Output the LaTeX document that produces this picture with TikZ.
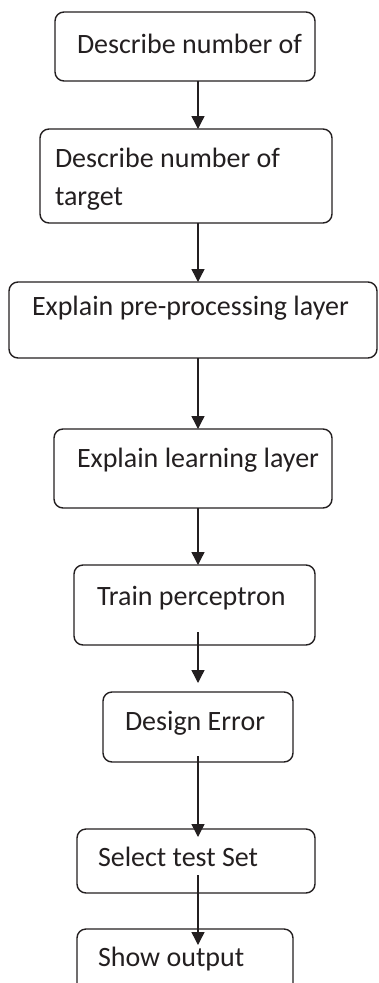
\documentclass[tikz,border=0pt]{standalone}
\usepackage{fontspec}
\setmainfont{Carlito}
\usetikzlibrary{arrows.meta}
\definecolor{ink}{HTML}{231F20}
\begin{document}
\begin{tikzpicture}[x=1pt,y=-1pt,
  box/.style={draw=ink,line width=1.4pt,rounded corners=9pt,inner sep=0pt,outer sep=0pt},
  lbl/.style={anchor=base west,inner sep=0pt,outer sep=0pt,text=ink,font=\fontsize{28}{38}\selectfont},
  conn/.style={draw=ink,line width=1.4pt,-{Triangle[length=13pt,width=13pt]}}]
\useasboundingbox (0,0) rectangle (378,983);
\coordinate (ax) at (198,0);
% boxes
\node[box,minimum width=260pt,minimum height=69pt] (b1) at (185,46.5) {};
\node[box,minimum width=292pt,minimum height=94pt] (b2) at (186,176) {};
\node[box,minimum width=368pt,minimum height=76pt] (b3) at (193,320) {};
\node[box,minimum width=278pt,minimum height=79pt] (b4) at (193,468.5) {};
\node[box,minimum width=241pt,minimum height=80pt] (b5) at (194.5,605) {};
\node[box,minimum width=190pt,minimum height=70pt] (b6) at (198,727) {};
\node[box,minimum width=238pt,minimum height=64pt] (b7) at (196,861) {};
\node[box,minimum width=216pt,minimum height=63pt] (b8) at (185,960.5) {};
% labels
\node[lbl] (t1) at (77,53) {Describe number of};
\node[lbl] (t2a) at (55,167) {Describe number of};
\node[lbl] (t2b) at (55,205) {target};
\node[lbl] (t3) at (32,315) {Explain pre-processing layer};
\node[lbl] (t4) at (77,467) {Explain learning layer};
\node[lbl] (t5) at (97,605) {Train perceptron};
\node[lbl] (t6) at (125,730) {Design Error};
\node[lbl] (t7) at (98,866) {Select test Set};
\node[lbl] (t8) at (98,966) {Show output};
% connectors
\draw[conn] (b1.south -| ax) -- (b2.north -| ax);
\draw[conn] (b2.south -| ax) -- (b3.north -| ax);
\draw[conn] (b3.south -| ax) -- (b4.north -| ax);
\draw[conn] (b4.south -| ax) -- (b5.north -| ax);
\draw[conn] ([yshift=13pt]b5.south -| ax) -- ([yshift=9pt]b6.north -| ax);
\draw[conn] ([yshift=6pt]b6.south -| ax) -- ([yshift=-8pt]b7.north -| ax);
\draw[conn] ([yshift=18pt]b7.south -| ax) -- ([yshift=-16pt]b8.north -| ax);
\end{tikzpicture}
\end{document}
